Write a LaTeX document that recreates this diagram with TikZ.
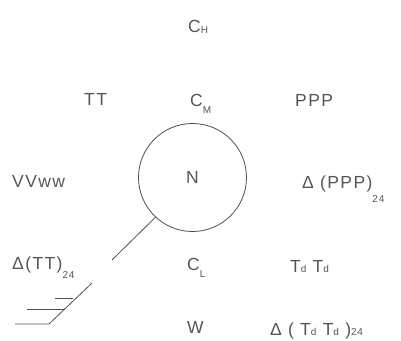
\documentclass[tikz,border=0pt]{standalone}
\usepackage{fontspec}
\setmainfont{Liberation Sans}[LetterSpace=8]
\usepackage{tikz}
\definecolor{ink}{HTML}{555555}
\definecolor{pen}{HTML}{505050}
\newcommand{\subfont}{\fontsize{10}{11}\selectfont}
\newcommand{\lo}[2][0pt]{\raisebox{-#1}{\subfont #2}}

\begin{document}
\begin{tikzpicture}[
  x=1pt, y=-1pt,
  lbl/.style={anchor=base west, inner sep=0pt, text=ink,
              font=\fontsize{17.5}{19}\selectfont},
  stn/.style={circle, draw=pen, line width=0.8pt, minimum size=108pt,
              inner sep=0pt, text=ink, font=\fontsize{17.5}{19}\selectfont},
  wind/.style={draw=pen, line width=0.8pt}
]
\useasboundingbox (0,0) rectangle (401,340);

\node[stn] (stn) at (192.5,177.5) {N};

% cloud and weather labels
\node[lbl] (ch)  at (188,32)  {C\lo[1pt]{H}};
\node[lbl] (tt)  at (84,105)  {TT};
\node[lbl] (cm)  at (190,106) {C\lo[7pt]{M}};
\node[lbl] (ppp) at (295,106) {PPP};
\node[lbl] (vv)  at (12,187)  {VVww};
\node[lbl] (dp)  at (302,188) {Δ (PPP)\lo[14pt]{24}};
\node[lbl] (dtt) at (12,269)  {Δ(TT)\lo[9pt]{24}};
\node[lbl] (cl)  at (187,270) {C\lo[7pt]{L}};
\node[lbl] (td)  at (290,272) {T\lo{d} T\lo{d}};
\node[lbl] (w)   at (187,333) {W};
\node[lbl] (dtd) at (270,335) {Δ ( T\lo{d} T\lo{d} )\lo{24}};

% wind staff and barbs
\coordinate (s1)  at (112,260);
\coordinate (s2)  at (92,283);
\coordinate (tip) at (49,324);
\coordinate (b1)  at (65,309);
\coordinate (b2)  at (73,298);
\draw[wind] (stn.227) -- (s1);
\draw[wind] (s2) -- (tip) -- ++(-34,0);
\draw[wind] (b1) -- ++(-38,0);
\draw[wind] (b2) -- ++(-18,0);
\end{tikzpicture}
\end{document}
